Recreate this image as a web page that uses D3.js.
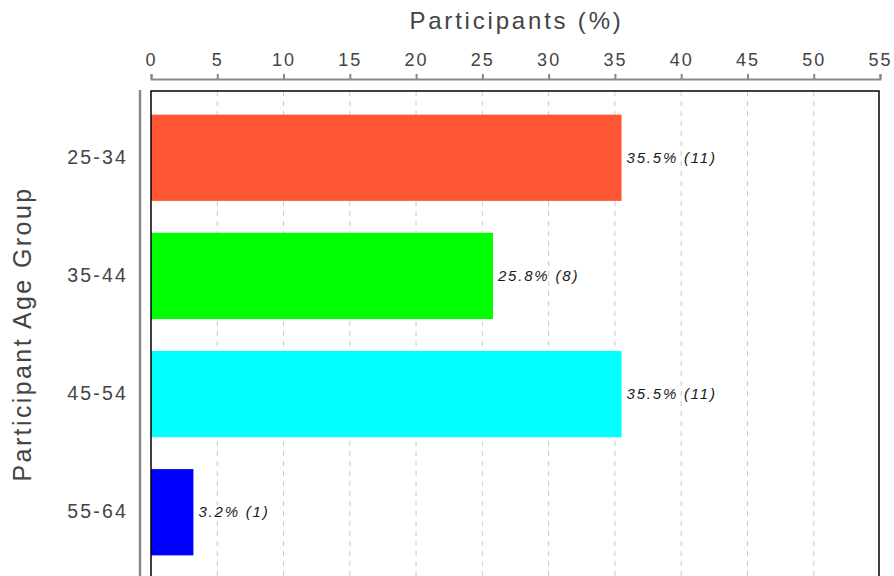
<!DOCTYPE html>
<html><head><meta charset="utf-8">
<script src="https://cdn.jsdelivr.net/npm/d3@7"></script>
<style>body{margin:0;background:#fff;} svg{display:block;}</style>
</head><body>
<svg id="chart" width="894" height="576"></svg>
<script>
const categories = ["25-34", "35-44", "45-54", "55-64"];
const percents = [35.5, 25.8, 35.5, 3.2];
const counts = [11, 8, 11, 1];
const colors = ["#FF5733", "#00FF00", "#00FFFF", "#0000FF"];
const xTicks = [0,5,10,15,20,25,30,35,40,45,50,55];

(function(){
const svg = d3.select("#chart");
const pL = 151, pR = 880, pT = 91, pB = 579;
const x = d3.scaleLinear().domain([0,55]).range([pL, pR]);
const y = d3.scaleBand().domain(categories).range([pT, pB]).paddingInner(0.27).paddingOuter(0.2);

// grid
svg.append("g").selectAll("line").data(xTicks.slice(1,-1)).join("line")
  .attr("x1", d=>x(d)).attr("x2", d=>x(d)).attr("y1", pT).attr("y2", 576)
  .attr("stroke", "#c8c8c8").attr("stroke-width", 1).attr("stroke-dasharray", "5,5");

// bars
svg.append("g").selectAll("rect").data(categories).join("rect")
  .attr("x", x(0)).attr("y", d=>y(d)).attr("height", y.bandwidth())
  .attr("width", (d,i)=>x(percents[i]) - x(0)).attr("fill", (d,i)=>colors[i]);

// bar labels
svg.append("g").selectAll("text").data(categories).join("text")
  .attr("x", (d,i)=>x(percents[i]) + 5).attr("y", d=>y(d) + y.bandwidth()/2)
  .attr("dy", "0.35em").attr("font-family", "Liberation Sans, Arial, sans-serif")
  .attr("font-size", 15).attr("font-style", "italic").attr("letter-spacing", "1.8px")
  .attr("fill", "#1a1a1a")
  .text((d,i)=>`${percents[i]}% (${counts[i]})`);

// frame
svg.append("rect").attr("x", pL).attr("y", pT).attr("width", pR-pL-1).attr("height", 600)
  .attr("fill", "none").attr("stroke", "#000").attr("stroke-width", 1.5);

// top axis
const xAxis = d3.axisTop(x).tickValues(xTicks).tickSize(5).tickPadding(8).tickSizeOuter(5);
const gx = svg.append("g").attr("transform", "translate(0,79)").call(xAxis);
gx.select(".domain").attr("stroke", "#888").attr("stroke-width", 2);
gx.selectAll(".tick line").attr("stroke", "#888").attr("stroke-width", 2);
gx.selectAll(".tick text").attr("font-family", "Liberation Sans, Arial, sans-serif")
  .attr("font-size", 18).attr("letter-spacing", "2px").attr("fill", "#444");

// left axis
const yAxis = d3.axisLeft(y).tickSize(0).tickPadding(12);
const gy = svg.append("g").attr("transform", "translate(140,0)").call(yAxis);
gy.select(".domain").remove();
gy.append("line").attr("x1",0).attr("x2",0).attr("y1",90).attr("y2",576).attr("stroke","#888").attr("stroke-width",2.5);
gy.selectAll(".tick text").attr("font-family", "Liberation Sans, Arial, sans-serif")
  .attr("font-size", 19.5).attr("letter-spacing", "2.2px").attr("fill", "#444");

// titles
svg.append("text").attr("x", (pL+pR)/2 + 1).attr("y", 29).attr("text-anchor", "middle")
  .attr("font-family", "Liberation Sans, Arial, sans-serif").attr("font-size", 24)
  .attr("letter-spacing", "2.8px").attr("fill", "#444").text("Participants (%)");
svg.append("text").attr("transform", "translate(31,334) rotate(-90)").attr("text-anchor", "middle")
  .attr("font-family", "Liberation Sans, Arial, sans-serif").attr("font-size", 25)
  .attr("letter-spacing", "2.4px").attr("fill", "#444").text("Participant Age Group");
})();
</script>
</body></html>
